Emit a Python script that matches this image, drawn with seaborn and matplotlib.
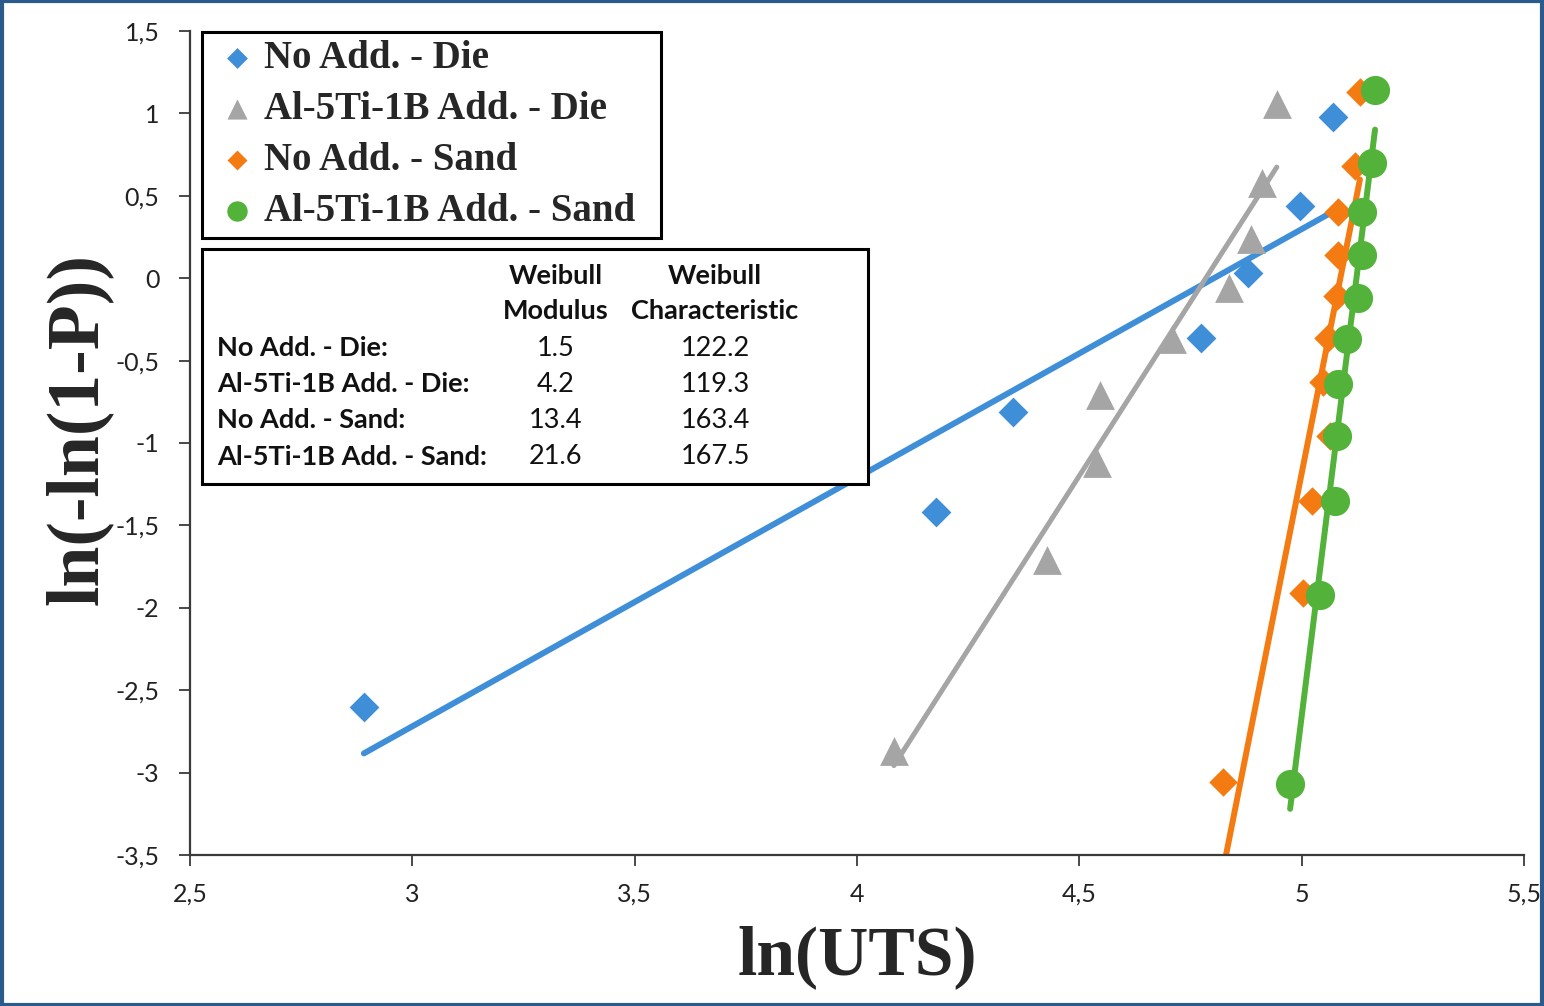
import numpy as np
import matplotlib
matplotlib.use("Agg")
import matplotlib.pyplot as plt
import seaborn as sns
from matplotlib.ticker import FuncFormatter, MultipleLocator
from matplotlib.patches import Rectangle

# ---------------- data ----------------
die_noadd_x = [2.891, 4.178, 4.351, 4.774, 4.879, 4.996, 5.070]
die_noadd_y = [-2.60, -1.42, -0.81, -0.36, 0.03, 0.44, 0.98]

die_ti_x = [4.083, 4.427, 4.540, 4.546, 4.708, 4.837, 4.886, 4.911, 4.944]
die_ti_y = [-2.87, -1.71, -1.12, -0.71, -0.37, -0.06, 0.24, 0.58, 1.06]

sand_noadd_x = [4.823, 5.003, 5.023, 5.064, 5.048, 5.059, 5.079, 5.082, 5.082, 5.120, 5.131]
sand_noadd_y = [-3.06, -1.91, -1.35, -0.96, -0.63, -0.36, -0.11, 0.14, 0.40, 0.68, 1.13]

sand_ti_x = [4.974, 5.041, 5.075, 5.079, 5.082, 5.102, 5.127, 5.136, 5.136, 5.158, 5.165]
sand_ti_y = [-3.07, -1.92, -1.35, -0.96, -0.64, -0.37, -0.12, 0.14, 0.40, 0.70, 1.14]

series_labels = ["No Add. - Die", "Al-5Ti-1B Add. - Die",
                 "No Add. - Sand", "Al-5Ti-1B Add. - Sand"]

table_header_1 = ["Weibull", "Weibull"]
table_header_2 = ["Modulus", "Characteristic"]
table_rows = ["No Add. - Die:", "Al-5Ti-1B Add. - Die:",
              "No Add. - Sand:", "Al-5Ti-1B Add. - Sand:"]
weibull_modulus = ["1.5", "4.2", "13.4", "21.6"]
weibull_characteristic = ["122.2", "119.3", "163.4", "167.5"]

# ---------------- style ----------------
sns.set_style("ticks")
plt.rcParams["font.family"] = ["Lato", "DejaVu Sans"]

colors = ["#3f8ed8", "#a5a5a5", "#f47a12", "#52b23a"]
markers = ["D", "^", "D", "o"]
sizes = [230, 430, 210, 440]
line_w = [4.3, 3.6, 4.3, 4.3]

W, H = 1544, 1006
fig = plt.figure(figsize=(W / 100, H / 100), dpi=100)
ax = fig.add_axes([190 / W, 1 - 855 / H, 1334 / W, 824 / H])

datasets = [(die_noadd_x, die_noadd_y), (die_ti_x, die_ti_y),
            (sand_noadd_x, sand_noadd_y), (sand_ti_x, sand_ti_y)]

# trend lines
for (xs, ys), c, lw in zip(datasets, colors, line_w):
    sns.regplot(x=np.array(xs), y=np.array(ys), scatter=False, ci=None,
                truncate=True, color=c, ax=ax,
                line_kws={"lw": lw, "solid_capstyle": "round", "zorder": 2})

# markers
for (xs, ys), c, m, s, lab in zip(datasets, colors, markers, sizes, series_labels):
    sns.scatterplot(x=xs, y=ys, color=c, marker=m, s=s, linewidth=0,
                    label=lab, ax=ax, zorder=3)

ax.set_xlim(2.5, 5.5)
ax.set_ylim(-3.5, 1.5)
ax.xaxis.set_major_locator(MultipleLocator(0.5))
ax.yaxis.set_major_locator(MultipleLocator(0.5))


def comma_fmt(v, pos):
    if abs(v) < 1e-9:
        return "0"
    return f"{v:g}".replace(".", ",")


ax.xaxis.set_major_formatter(FuncFormatter(comma_fmt))
ax.yaxis.set_major_formatter(FuncFormatter(comma_fmt))

sns.despine(ax=ax)
for sp in ["left", "bottom"]:
    ax.spines[sp].set_color("#3a3a3a")
    ax.spines[sp].set_linewidth(1.6)
ax.tick_params(axis="both", direction="out", length=8, width=1.3,
               color="#3a3a3a", labelsize=18, labelcolor="#222222")
ax.tick_params(axis="x", pad=12)
ax.tick_params(axis="y", pad=14)

ax.set_xlabel("ln(UTS)", fontsize=50, fontweight="bold",
              family=["Liberation Serif", "DejaVu Serif"])
ax.set_ylabel("ln(-ln(1-P))", fontsize=53, fontweight="bold",
              family=["Liberation Serif", "DejaVu Serif"])
ax.xaxis.set_label_coords(0.5, -0.085)
ax.yaxis.set_label_coords(-0.058, 0.517)


def fx(px):
    return (px - 190) / 1334


def fy(py):
    return (855 - py) / 824


# legend
leg = ax.legend(loc="upper left",
                bbox_to_anchor=(fx(202), fy(235), fx(661) - fx(202), fy(32) - fy(235)),
                mode="expand", borderaxespad=0, frameon=True, fancybox=False,
                prop={"family": ["Liberation Serif", "DejaVu Serif"],
                      "weight": "bold", "size": 28},
                markerscale=0.7, handlelength=1.4, handletextpad=0.0,
                labelspacing=0.36, borderpad=0.2, framealpha=1)
leg.get_frame().set_edgecolor("black")
leg.get_frame().set_linewidth(2.2)
leg.set_zorder(6)

# table box
ax.add_patch(Rectangle((fx(202), fy(484)), fx(868) - fx(202), fy(249) - fy(484),
                       transform=ax.transAxes, facecolor="white",
                       edgecolor="black", lw=2.2, zorder=5, clip_on=False))

tkw = dict(transform=ax.transAxes, fontsize=19.5, fontweight="bold",
           color="#111111", va="center", zorder=6)
col1, col2 = fx(556), fx(715)
ax.text(col1, fy(276), table_header_1[0], ha="center", **tkw)
ax.text(col2, fy(276), table_header_1[1], ha="center", **tkw)
ax.text(col1, fy(311), table_header_2[0], ha="center", **tkw)
ax.text(col2, fy(311), table_header_2[1], ha="center", **tkw)
row_py = [348, 384, 420, 457]
for py, lab, m, ch in zip(row_py, table_rows, weibull_modulus, weibull_characteristic):
    ax.text(fx(217), fy(py), lab, ha="left", **tkw)
    ax.text(col1, fy(py), m, ha="center", **dict(tkw, fontweight="normal"))
    ax.text(col2, fy(py), ch, ha="center", **dict(tkw, fontweight="normal"))

# outer frame of the picture
fig.add_artist(Rectangle((0.001, 0.001), 0.998, 0.998, transform=fig.transFigure,
                         fill=False, edgecolor="#2b5a8c", lw=3))

fig.savefig("out.png", dpi=100)
